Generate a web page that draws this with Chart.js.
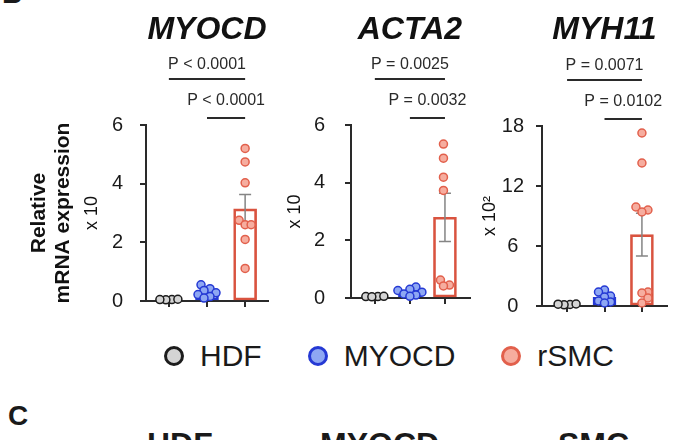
<!DOCTYPE html>
<html lang="en">
<head>
<meta charset="utf-8">
<title>Relative mRNA expression</title>
<script src="https://cdn.jsdelivr.net/npm/chart.js@4.4.1/dist/chart.umd.min.js"></script>
<style>
* { margin: 0; padding: 0; box-sizing: border-box; }
body {
  width: 700px; height: 440px; background: #fff; position: relative; overflow: hidden;
  font-family: "Liberation Sans", Arial, sans-serif; color: #1a1a1a;
}
canvas { position: absolute; top: 0; }
#c1 { left: 0; }
#c2 { left: 280px; }
#c3 { left: 475px; }
.letter { position: absolute; font-weight: bold; font-size: 28px; line-height: 1; }
.sub { position: absolute; font-weight: bold; font-size: 32px; line-height: 1; top: 428px; }
#legend { position: absolute; top: 339px; left: 164px; display: flex; align-items: center; font-size: 30px; line-height: 34px; }
.item { display: flex; align-items: center; margin-right: 46px; }
.dot { width: 20px; height: 20px; border-radius: 50%; border: 3px solid; margin-right: 16px; }
</style>
</head>
<body>
<div class="letter" style="left:2px; top:-20px;">B</div>
<canvas id="c1" width="280" height="330"></canvas>
<canvas id="c2" width="195" height="330"></canvas>
<canvas id="c3" width="225" height="330"></canvas>
<div id="legend"></div>
<div class="letter" style="left:8px; top:402px;">C</div>
<div class="sub" style="left:147px;">HDF</div>
<div class="sub" style="left:320px;">MYOCD</div>
<div class="sub" style="left:558px;">SMC</div>

<script>
const groups = ["HDF", "MYOCD", "rSMC"];
const pointFill = ["#d4d4d4", "#8ea7f3", "#f6ad9f"];
const pointEdge = ["#1c1c1c", "#2539d4", "#e2604c"];
const barEdge = ["#1c1c1c", "#2539d4", "#d9533f"];

// MYOCD, relative mRNA expression x 10
const myocdHdf = [0.05, 0.06, 0.04, 0.05];
const myocdMyocd = [0.55, 0.42, 0.36, 0.28, 0.22, 0.15, 0.1];
const myocdRsmc = [5.2, 4.74, 4.03, 2.75, 2.6, 2.6, 2.1, 1.11];
const myocdP = ["P < 0.0001", "P < 0.0001"];

// ACTA2, x 10
const acta2Hdf = [0.05, 0.05, 0.06, 0.04];
const acta2Myocd = [0.38, 0.3, 0.26, 0.2, 0.14, 0.1, 0.06];
const acta2Rsmc = [5.34, 4.85, 4.19, 3.73, 0.62, 0.45, 0.42];
const acta2P = ["P = 0.0025", "P = 0.0032"];

// MYH11, x 10^2
const myh11Hdf = [0.15, 0.2, 0.12, 0.18];
const myh11Myocd = [1.6, 1.4, 1.0, 0.9, 0.5, 0.4, 0.3];
const myh11Rsmc = [17.3, 14.3, 9.9, 9.6, 9.4, 1.4, 1.3, 0.8, 0.3];
const myh11P = ["P = 0.0071", "P = 0.0102"];

const ticksSmall = [0, 2, 4, 6];
const ticksLarge = [0, 6, 12, 18];

const FONT = "'Liberation Sans', Arial, sans-serif";
const INK = "#2a2a2a";

const mean = a => a.reduce((s, v) => s + v, 0) / a.length;
const sem = a => {
  const m = mean(a);
  const sd = Math.sqrt(a.reduce((s, v) => s + (v - m) ** 2, 0) / (a.length - 1));
  return sd / Math.sqrt(a.length);
};

// draws error bars, titles, p-value brackets and the y title
const annotate = {
  id: "annotate",
  afterDatasetDraw(chart, args, opts) {
    if (args.index !== 0) return;
    const { ctx, scales: { x, y } } = chart;
    ctx.save();
    ctx.strokeStyle = "#858585";
    ctx.lineWidth = 1.5;
    opts.sets.forEach((vals, g) => {
      const m = mean(vals), e = sem(vals);
      const px = x.getPixelForValue(g);
      const hi = y.getPixelForValue(m + e), lo = y.getPixelForValue(Math.max(0, m - e));
      ctx.beginPath();
      ctx.moveTo(px, hi); ctx.lineTo(px, lo);
      ctx.moveTo(px - 6, hi); ctx.lineTo(px + 6, hi);
      ctx.moveTo(px - 6, lo); ctx.lineTo(px + 6, lo);
      ctx.stroke();
    });
    ctx.restore();
  },
  afterDraw(chart, args, opts) {
    const { ctx, chartArea, scales: { x } } = chart;
    ctx.save();
    ctx.fillStyle = "#111";
    ctx.textAlign = "center";
    ctx.textBaseline = "middle";
    ctx.font = "italic bold 32px " + FONT;
    ctx.fillText(opts.title, x.getPixelForValue(1), 30);

    // brackets
    const pairs = [[0, 2, chartArea.top - 46], [1, 2, chartArea.top - 7]];
    ctx.strokeStyle = INK;
    ctx.lineWidth = 2;
    ctx.font = "16px " + FONT;
    ctx.fillStyle = INK;
    pairs.forEach(([a, b, ly], i) => {
      const xa = x.getPixelForValue(a), xb = x.getPixelForValue(b);
      ctx.beginPath();
      ctx.moveTo(xa, ly); ctx.lineTo(xb, ly);
      ctx.stroke();
      ctx.fillText(opts.p[i], (xa + xb) / 2, ly - (i ? 17 : 14));
    });

    // y title lines
    const cy = (chartArea.top + chartArea.bottom) / 2;
    opts.yTitle.forEach(t => {
      ctx.save();
      ctx.translate(chartArea.left + t.dx, cy);
      ctx.rotate(-Math.PI / 2);
      ctx.font = (t.bold ? "bold 21px " : "18px ") + FONT;
      ctx.fillStyle = "#111";
      ctx.fillText(t.text, 0, 0);
      ctx.restore();
    });
    ctx.restore();
  }
};

function makePanel(id, cfg) {
  const datasets = [{
    type: "bar",
    data: cfg.sets.map((vals, g) => ({ x: g, y: mean(vals) })),
    backgroundColor: "rgba(255,255,255,0)",
    borderColor: barEdge,
    borderWidth: 2,
    borderSkipped: false,
    barThickness: 23,
    order: 3,
    clip: false
  }];
  cfg.sets.forEach((vals, g) => {
    datasets.push({
      type: "scatter",
      data: vals.map(v => ({ x: g, y: v })),
      pointRadius: 4,
      pointBorderWidth: 1.5,
      pointBackgroundColor: pointFill[g],
      pointBorderColor: pointEdge[g],
      showLine: false,
      order: 0,
      clip: false
    });
  });

  const pad = { left: 40, right: 10, top: 100, bottom: 10 };
  const chart = new Chart(document.getElementById(id), {
    type: "bar",
    data: { datasets },
    plugins: [annotate],
    options: {
      responsive: false,
      animation: false,
      layout: { padding: pad },
      scales: {
        x: {
          type: "linear",
          min: cfg.xMin, max: cfg.xMax,
          offset: false,
          afterBuildTicks: s => { s.ticks = groups.map((g, i) => ({ value: i })); },
          ticks: { display: false },
          grid: { offset: false, drawOnChartArea: false, drawTicks: true, tickLength: 6, color: INK, lineWidth: 2 },
          border: { color: INK, width: 2 }
        },
        y: {
          min: 0, max: cfg.ticks[cfg.ticks.length - 1],
          afterBuildTicks: s => { s.ticks = cfg.ticks.map(v => ({ value: v })); },
          afterFit: s => { s.width = 46; },
          ticks: { font: { family: FONT, size: 20 }, color: "#1a1a1a", padding: cfg.tickPad, crossAlign: "center" },
          grid: { drawOnChartArea: false, drawTicks: true, tickLength: 6, color: INK, lineWidth: 2 },
          border: { color: INK, width: 2 }
        }
      },
      plugins: {
        legend: { display: false },
        tooltip: { enabled: false },
        annotate: { title: cfg.title, p: cfg.p, sets: cfg.sets, yTitle: cfg.yTitle }
      }
    }
  });

  // move the plot area onto its place in the figure
  const ca = chart.chartArea, t = cfg.area;
  pad.left += t.left - ca.left;
  pad.top += t.top - ca.top;
  pad.right += ca.right - t.right;
  pad.bottom += ca.bottom - t.bottom;
  chart.update("none");

  spread(chart, cfg.sets);
  return chart;
}

// simple beeswarm: shift overlapping points sideways
function spread(chart, sets) {
  const xs = chart.scales.x, ys = chart.scales.y;
  const unit = xs.getPixelForValue(1) - xs.getPixelForValue(0);
  sets.forEach((vals, g) => {
    const ds = chart.data.datasets[g + 1];
    const placed = [];
    const idx = vals.map((v, i) => i).sort((a, b) => vals[a] - vals[b]);
    idx.forEach(i => {
      const py = ys.getPixelForValue(vals[i]);
      let dx = 0;
      for (let s = 0; s < 40; s++) {
        dx = (s % 2 ? 1 : -1) * Math.ceil(s / 2) * 3;
        if (placed.every(p => Math.hypot(p.x - dx, p.y - py) >= 6)) break;
      }
      placed.push({ x: dx, y: py });
    });
    const lo = Math.min(...placed.map(p => p.x)), hi = Math.max(...placed.map(p => p.x));
    const shift = (lo + hi) / 2;
    idx.forEach((i, k) => {
      ds.data[i] = { x: g + (placed[k].x - shift) / unit, y: vals[i] };
    });
  });
  chart.update("none");
}

makePanel("c1", {
  title: "MYOCD", p: myocdP, sets: [myocdHdf, myocdMyocd, myocdRsmc], ticks: ticksSmall,
  area: { left: 146, top: 125, right: 268, bottom: 307 }, tickPad: 17,
  xMin: -0.6, xMax: 2.6,
  yTitle: [
    { text: "Relative", bold: true, dx: -107 },
    { text: "mRNA expression", bold: true, dx: -83 },
    { text: "x 10", bold: false, dx: -54 }
  ]
});
makePanel("c2", {
  title: "ACTA2", p: acta2P, sets: [acta2Hdf, acta2Myocd, acta2Rsmc], ticks: ticksSmall,
  area: { left: 71, top: 125, right: 192, bottom: 307 }, tickPad: 20,
  xMin: -0.68, xMax: 2.7,
  yTitle: [{ text: "x 10", bold: false, dx: -56 }]
});
makePanel("c3", {
  title: "MYH11", p: myh11P, sets: [myh11Hdf, myh11Myocd, myh11Rsmc], ticks: ticksLarge,
  area: { left: 67, top: 126, right: 192, bottom: 305 }, tickPad: 12,
  xMin: -0.67, xMax: 2.67,
  yTitle: [{ text: "x 10\u00b2", bold: false, dx: -52 }]
});

// legend
const legend = document.getElementById("legend");
groups.forEach((g, i) => {
  const item = document.createElement("div");
  item.className = "item";
  item.innerHTML = `<span class="dot" style="background:${pointFill[i]};border-color:${pointEdge[i]}"></span><span>${g}</span>`;
  legend.appendChild(item);
});
</script>
</body>
</html>
